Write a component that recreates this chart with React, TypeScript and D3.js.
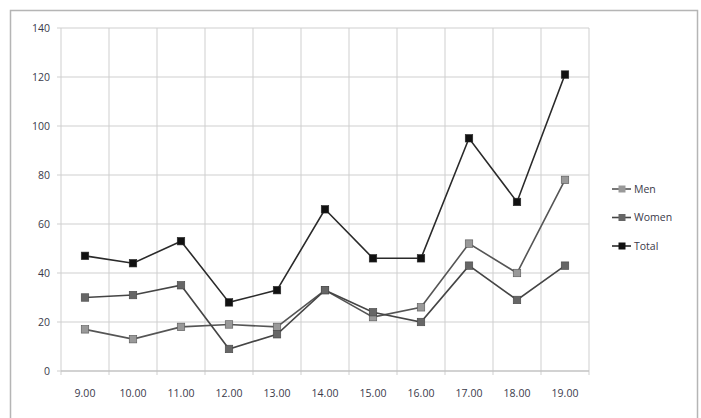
import React from "react";
import * as d3 from "d3";

const hours = ["9.00", "10.00", "11.00", "12.00", "13.00", "14.00", "15.00", "16.00", "17.00", "18.00", "19.00"];
const men = [17, 13, 18, 19, 18, 33, 22, 26, 52, 40, 78];
const women = [30, 31, 35, 9, 15, 33, 24, 20, 43, 29, 43];
const total = [47, 44, 53, 28, 33, 66, 46, 46, 95, 69, 121];
const yTicks = [0, 20, 40, 60, 80, 100, 120, 140];
const seriesNames = ["Men", "Women", "Total"];

const W = 701;
const H = 418;
const plot = { left: 61, right: 589, top: 28, bottom: 371 };

const seriesStyle = [
  { line: "#555555", marker: "#999999" },
  { line: "#454545", marker: "#666666" },
  { line: "#2a2a2a", marker: "#111111" },
];

export default function App() {
  const x = d3.scaleBand<string>().domain(hours).range([plot.left, plot.right]);
  const y = d3.scaleLinear().domain([0, 140]).range([plot.bottom, plot.top]);
  const cx = (h: string) => (x(h) ?? 0) + x.bandwidth() / 2;
  const line = d3
    .line<number>()
    .x((_, i) => cx(hours[i]))
    .y((v) => y(v));
  const data = [men, women, total];
  const boundaries = hours.map((h) => x(h) ?? 0).concat([plot.right]);
  const font = "'Open Sans', 'Liberation Sans', sans-serif";
  const ms = 7.5;

  return (
    <svg
      width={W}
      height={H}
      style={{ position: "absolute", left: 0, top: 0, background: "#fff" }}
    >
      <rect x={10.5} y={10.5} width={687} height={420} fill="#fff" stroke="#b5b5b5" strokeWidth={1.5} />
      {yTicks.map((t) => (
        <g key={t}>
          <line x1={plot.left - 4} x2={plot.right} y1={y(t)} y2={y(t)} stroke="#cfcfcf" strokeWidth={1} />
          <text
            x={50}
            y={y(t)}
            dy="0.35em"
            textAnchor="end"
            fontSize={10.5}
            fontFamily={font}
            fill="#3a3a4a"
          >
            {t}
          </text>
        </g>
      ))}
      {boundaries.map((bx, i) => (
        <line key={i} x1={bx} x2={bx} y1={plot.top} y2={plot.bottom + 4} stroke="#cfcfcf" strokeWidth={1} />
      ))}
      <line x1={plot.left} x2={plot.right} y1={plot.bottom} y2={plot.bottom} stroke="#bdbdbd" strokeWidth={1} />
      {hours.map((h) => (
        <text
          key={h}
          x={cx(h)}
          y={397}
          textAnchor="middle"
          fontSize={10.5}
          fontFamily={font}
          fill="#3a3a4a"
        >
          {h}
        </text>
      ))}
      {data.map((vals, si) => (
        <g key={si}>
          <path d={line(vals) ?? ""} fill="none" stroke={seriesStyle[si].line} strokeWidth={1.6} />
          {vals.map((v, i) => (
            <rect
              key={i}
              x={cx(hours[i]) - ms / 2}
              y={y(v) - ms / 2}
              width={ms}
              height={ms}
              fill={seriesStyle[si].marker}
              stroke={seriesStyle[si].line}
              strokeWidth={0.6}
            />
          ))}
        </g>
      ))}
      {seriesNames.map((name, si) => {
        const ly = 189 + si * 28.5;
        return (
          <g key={name}>
            <line x1={612} x2={631} y1={ly} y2={ly} stroke={seriesStyle[si].line} strokeWidth={1.6} />
            <rect x={618.5} y={ly - 3.5} width={7} height={7} fill={seriesStyle[si].marker} />
            <text x={634} y={ly} dy="0.35em" fontSize={10.5} fontFamily={font} fill="#3a3a4a">
              {name}
            </text>
          </g>
        );
      })}
    </svg>
  );
}
